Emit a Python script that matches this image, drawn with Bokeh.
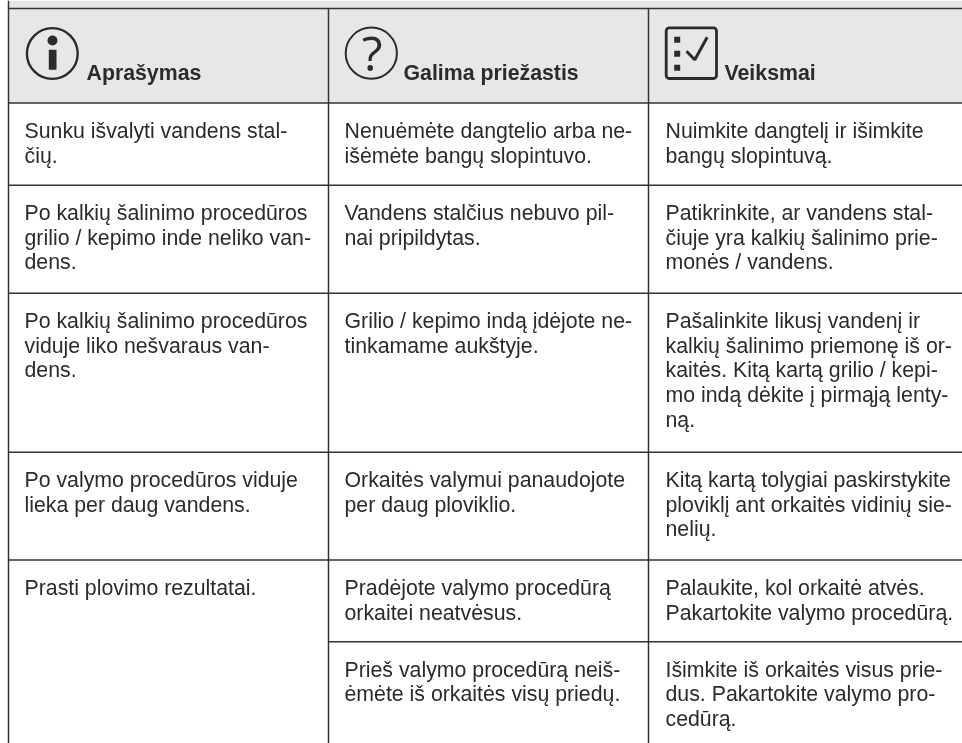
from bokeh.plotting import figure
from bokeh.embed import file_html
from bokeh.resources import INLINE
from bokeh.core.properties import value

# ---- table content ----
headers = ["Aprašymas", "Galima priežastis", "Veiksmai"]
col_a = [
    ["Sunku išvalyti vandens stal-", "čių."],
    ["Po kalkių šalinimo procedūros", "grilio / kepimo inde neliko van-", "dens."],
    ["Po kalkių šalinimo procedūros", "viduje liko nešvaraus van-", "dens."],
    ["Po valymo procedūros viduje", "lieka per daug vandens."],
    ["Prasti plovimo rezultatai."],
    [],
]
col_b = [
    ["Nenuėmėte dangtelio arba ne-", "išėmėte bangų slopintuvo."],
    ["Vandens stalčius nebuvo pil-", "nai pripildytas."],
    ["Grilio / kepimo indą įdėjote ne-", "tinkamame aukštyje."],
    ["Orkaitės valymui panaudojote", "per daug ploviklio."],
    ["Pradėjote valymo procedūrą", "orkaitei neatvėsus."],
    ["Prieš valymo procedūrą neiš-", "ėmėte iš orkaitės visų priedų."],
]
col_c = [
    ["Nuimkite dangtelį ir išimkite", "bangų slopintuvą."],
    ["Patikrinkite, ar vandens stal-", "čiuje yra kalkių šalinimo prie-", "monės / vandens."],
    ["Pašalinkite likusį vandenį ir", "kalkių šalinimo priemonę iš or-", "kaitės. Kitą kartą grilio / kepi-", "mo indą dėkite į pirmąją lenty-", "ną."],
    ["Kitą kartą tolygiai paskirstykite", "ploviklį ant orkaitės vidinių sie-", "nelių."],
    ["Palaukite, kol orkaitė atvės.", "Pakartokite valymo procedūrą."],
    ["Išimkite iš orkaitės visus prie-", "dus. Pakartokite valymo pro-", "cedūrą."],
]

# ---- layout ----
W, H = 962, 743
LEFT, COL2, COL3 = 8, 328, 648
TOP, HEAD = 8, 102.5
ROWS = [102.5, 184.7, 292.7, 451.7, 559.5, 641.3]
TEXT_X = [24, 344, 665]
LINE_H = 24.6
FIRST = 28
FS = "21.3px"
INK = "#2b2b2d"
RULE = "#333335"
GRAY = "#e6e7e8"
RW = 1.5

p = figure(width=W, height=H, x_range=(0, W), y_range=(H, 0),
           output_backend="svg", toolbar_location=None, min_border=0,
           outline_line_color=None, background_fill_color="white")
p.styles = {"position": "fixed", "left": "0px", "top": "0px"}
p.axis.visible = False
p.grid.visible = False

# header shading
p.quad(left=[LEFT], right=[W], top=[0], bottom=[HEAD], fill_color=GRAY, line_color=None)

# rules
xs0 = [LEFT, LEFT, COL2, COL3, LEFT, LEFT, LEFT, LEFT, LEFT, COL2]
ys0 = [0, TOP, TOP, TOP, ROWS[0], ROWS[1], ROWS[2], ROWS[3], ROWS[4], ROWS[5]]
xs1 = [LEFT, W, COL2, COL3, W, W, W, W, W, W]
ys1 = [H, TOP, H, H, ROWS[0], ROWS[1], ROWS[2], ROWS[3], ROWS[4], ROWS[5]]
p.segment(xs0, ys0, xs1, ys1, line_color=RULE, line_width=RW)

# body text
tx, ty, tt = [], [], []
for cx, col in zip(TEXT_X, (col_a, col_b, col_c)):
    for top, cell in zip(ROWS, col):
        for i, line in enumerate(cell):
            tx.append(cx)
            ty.append(top + FIRST + i * LINE_H)
            tt.append(line)
p.text(tx, ty, text=tt, text_font=value("Liberation Sans"), text_font_size=FS,
       text_color=INK, text_baseline="alphabetic", text_align="left")

# header text
p.text([86, 403, 724], [72.7] * 3, text=headers, text_font=value("Liberation Sans"),
       text_font_style="bold", text_font_size="21.3px", text_color=INK,
       text_baseline="alphabetic", text_align="left")

# icon: info
p.circle([51.8], [53], radius=25.4, fill_color=None, line_color=INK, line_width=2.4)
p.circle([52], [40], radius=5, fill_color=INK, line_color=None)
p.quad(left=[48.3], right=[56], top=[49.3], bottom=[69.3], fill_color=INK, line_color=None)

# icon: question
p.circle([370.8], [52.7], radius=25.6, fill_color=None, line_color=INK, line_width=2)
p.text([371.5], [52], text=["?"], text_font=value("Open Sans"), text_font_size="48px",
       text_color=INK, text_baseline="alphabetic", text_align="center")

# icon: checklist
p.quad(left=[665.7], right=[716], top=[27.4], bottom=[78], fill_color=None,
       line_color=INK, line_width=2.8, border_radius=3)
p.quad(left=[673.7] * 3, right=[679.7] * 3, top=[36.3, 50.3, 64.3], bottom=[42.3, 56.3, 70.3],
       fill_color=INK, line_color=None)
p.line([686, 694.3, 706.7], [50.7, 59.3, 36.7], line_color=INK, line_width=3)

open("out.html", "w").write(file_html(p, INLINE))
